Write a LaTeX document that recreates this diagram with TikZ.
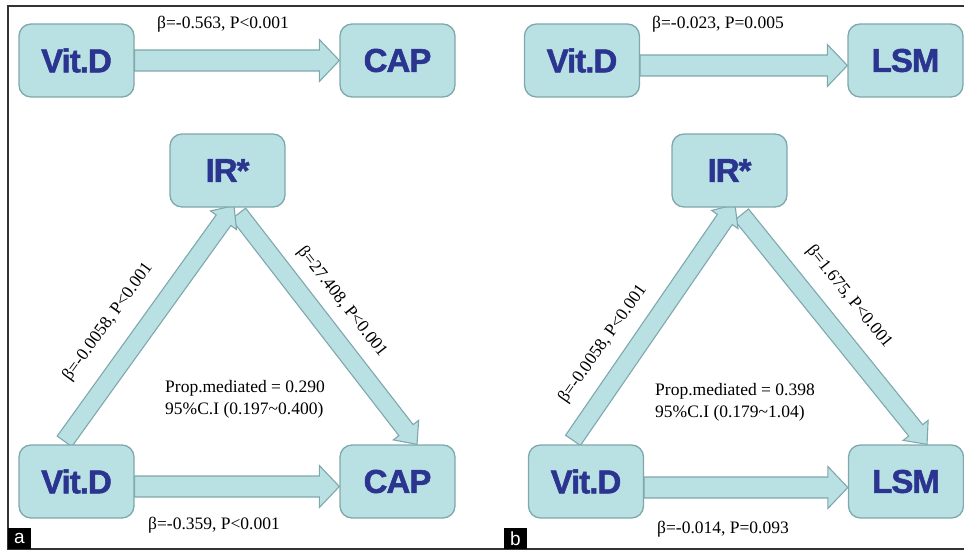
\documentclass[tikz,border=0pt]{standalone}
\usepackage{fontspec}
\setmainfont{Liberation Serif}
\setsansfont{Liberation Sans}
\newfontfamily\boxfont{Liberation Sans}[BoldFeatures={FakeBold=1.6}, LetterSpace=-3]
\usetikzlibrary{calc}
\definecolor{boxfill}{HTML}{B9E0E3}
\definecolor{boxline}{HTML}{7FA8AD}
\definecolor{boxtext}{HTML}{2B3590}
\definecolor{framecol}{HTML}{333333}
\tikzset{
  varbox/.style={rectangle, rounded corners=12pt, minimum width=115pt, minimum height=73pt,
    inner sep=0pt, fill=boxfill, draw=boxline, line width=1.3pt, text=boxtext,
    font=\boxfont\bfseries\fontsize{33}{33}\selectfont},
  fatarr/.style={fill=boxfill, draw=boxline, line width=1.1pt, line join=miter},
  lab/.style={inner sep=0pt, font=\rmfamily\fontsize{17.5}{17.5}\selectfont},
  panellab/.style={fill=black, text=white, minimum width=23pt, minimum height=21pt, inner sep=0pt,
    font=\sffamily\fontsize{19}{19}\selectfont},
  frameline/.style={draw=framecol, line width=1.6pt}
}
% #1 start, #2 end, #3 half shaft width, #4 half head width, #5 head length
\newcommand\fatarrow[5]{%
  \coordinate (fan) at ($(#2)!#5!(#1)$);
  \draw[fatarr] ($(#1)!#3!90:(#2)$) -- ($(fan)!#3!-90:(#1)$) -- ($(fan)!#4!-90:(#1)$)
    -- (#2) -- ($(fan)!#4!90:(#1)$) -- ($(fan)!#3!90:(#1)$) -- ($(#1)!#3!-90:(#2)$) -- cycle;}
\begin{document}
\begin{tikzpicture}[x=1pt,y=-1pt]
\useasboundingbox (0,0) rectangle (964,551);
% frame
\draw[frameline] (964,6) -- (8,6) -- (8,549) -- (964,549);

% ---------- node placement (boxes drawn later, above the arrows) ----------
\path
  (76.5,60.5) node[varbox, draw=none, fill=none] (vd1) {}
  (397.5,60.5) node[varbox, draw=none, fill=none] (cap1) {}
  (227.5,170.5) node[varbox, draw=none, fill=none] (ir1) {}
  (76.5,481.5) node[varbox, draw=none, fill=none] (vd2) {}
  (397.5,481.5) node[varbox, draw=none, fill=none] (cap2) {}
  (582,60.5) node[varbox, draw=none, fill=none] (vd3) {}
  (905.5,60.5) node[varbox, draw=none, fill=none] (lsm1) {}
  (729.5,170.5) node[varbox, draw=none, fill=none] (ir2) {}
  (586,481.5) node[varbox, draw=none, fill=none] (vd4) {}
  (906,481.5) node[varbox, draw=none, fill=none] (lsm2) {};

% connector end coordinates
\coordinate (a1s) at (vd1.east);
\coordinate (a1e) at (cap1.west);
\coordinate (a2s) at ($(vd2.east)+(0,5)$);
\coordinate (a2e) at ($(cap2.west)+(0,5)$);
\coordinate (a3s) at ($(vd2.north)+(-12,-3)$);
\coordinate (a3e) at ($(ir1.south)+(6.5,-2)$);
\coordinate (a4s) at ($(ir1.south)+(11,6)$);
\coordinate (a4e) at ($(cap2.north)+(19.5,0)$);
\coordinate (b1s) at ($(vd3.east)+(0,5)$);
\coordinate (b1e) at ($(lsm1.west)+(0,5)$);
\coordinate (b2s) at ($(vd4.east)+(0,6)$);
\coordinate (b2e) at ($(lsm2.west)+(0,6)$);
\coordinate (b3s) at ($(vd4.north)+(-13,-4)$);
\coordinate (b3e) at ($(ir2.south)+(5.5,-3)$);
\coordinate (b4s) at ($(ir2.south)+(12,7)$);
\coordinate (b4e) at ($(lsm2.north)+(21,0)$);

% arrows
\fatarrow{a1s}{a1e}{10.5pt}{21pt}{20pt}
\fatarrow{a2s}{a2e}{10.5pt}{21pt}{20pt}
\fatarrow{a4s}{a4e}{9pt}{16pt}{18pt}
\fatarrow{a3s}{a3e}{9pt}{16pt}{18pt}
\fatarrow{b1s}{b1e}{10.5pt}{21pt}{20pt}
\fatarrow{b2s}{b2e}{10.5pt}{21pt}{20pt}
\fatarrow{b4s}{b4e}{9pt}{16pt}{18pt}
\fatarrow{b3s}{b3e}{9pt}{16pt}{18pt}

% boxes
\node[varbox] (vd1b) at (vd1) {Vit.D};
\node[varbox] (cap1b) at (cap1) {CAP};
\node[varbox] (ir1b) at (ir1) {IR*};
\node[varbox] (vd2b) at (vd2) {Vit.D};
\node[varbox] (cap2b) at (cap2) {CAP};
\node[varbox] (vd3b) at (vd3) {Vit.D};
\node[varbox] (lsm1b) at (lsm1) {LSM};
\node[varbox] (ir2b) at (ir2) {IR*};
\node[varbox] (vd4b) at (vd4) {Vit.D};
\node[varbox] (lsm2b) at (lsm2) {LSM};

% labels panel a
\node[lab, anchor=base] (la1) at (223,28.5) {β=-0.563, P<0.001};
\node[lab, anchor=base] (la2) at (214,529) {β=-0.359, P<0.001};
\node[lab, rotate=54] (la3) at (108,322) {β=-0.0058, P<0.001};
\node[lab, rotate=-52] (la4) at (342,302) {β=27.408, P<0.001};
\node[lab, anchor=base west] (la5) at (165,392) {Prop.mediated = 0.290};
\node[lab, anchor=base west] (la6) at (165,414) {95\%C.I (0.197\textasciitilde 0.400)};

% labels panel b
\node[lab, anchor=base] (lb1) at (718,29) {β=-0.023, P=0.005};
\node[lab, anchor=base] (lb2) at (723,533) {β=-0.014, P=0.093};
\node[lab, rotate=55] (lb3) at (603,344) {β=-0.0058, P<0.001};
\node[lab, rotate=-51] (lb4) at (849,297) {β=1.675, P<0.001};
\node[lab, anchor=base west] (lb5) at (655,395) {Prop.mediated = 0.398};
\node[lab, anchor=base west] (lb6) at (655,417) {95\%C.I (0.179\textasciitilde 1.04)};

% panel letters
\node[panellab] (pa) at (19.5,538.5) {a};
\node[panellab] (pb) at (515.5,538.5) {b};
\end{tikzpicture}
\end{document}
